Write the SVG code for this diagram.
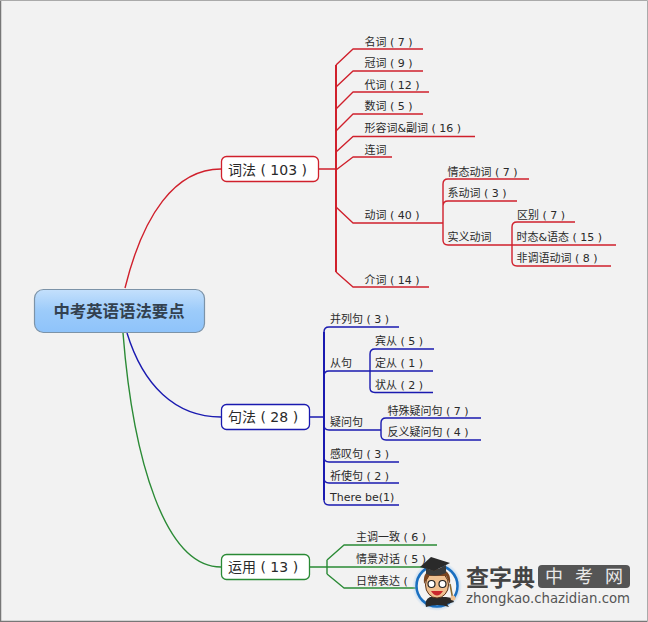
<svg xmlns="http://www.w3.org/2000/svg" width="648" height="622" viewBox="0 0 648 622">
<style>
text{font-family:"DejaVu Sans","Noto Sans CJK SC",sans-serif;fill:#2a2a2a}
.l{font-size:11px}
.m{font-size:14px}
.c{fill:none;stroke-width:1.4;stroke-linejoin:round}
.r{stroke:#d0202c}.b{stroke:#1a1ab0}.g{stroke:#2a8a35}
.n{fill:#fff;stroke-width:1.3}
</style>
<defs>
<linearGradient id="rootFill" x1="0" y1="0" x2="0" y2="1"><stop offset="0" stop-color="#c4e0fc"/><stop offset="0.5" stop-color="#9ccbfa"/><stop offset="1" stop-color="#8ec3fa"/></linearGradient>
<radialGradient id="glow"><stop offset="0.8" stop-color="#9cc8f0" stop-opacity=".7"/><stop offset="1" stop-color="#9cc8f0" stop-opacity="0"/></radialGradient>
</defs>
<rect width="648" height="622" fill="#f2f2f2"/>
<path d="M0.500 0.500V621.500H647.500" fill="none" stroke="#777" stroke-width="1.500"/>
<path d="M0 0.500H647.500V621" fill="none" stroke="#aaa"/>
<g id="connectors">
<path class="c r" d="M125 288C143 215 175 169 221 169M319 169H336"/>
<path class="c b" d="M127 333C143 385 175 417 221 417M309 417H324"/>
<path class="c g" d="M123 333C133 460 165 567 221 567M310 567H437M327 560V574M327 560L344 545H437M327 574L344 588H416"/>
<path class="c r" style="stroke-width:2" d="M336 65V272"/>
<path class="c r" d="M336 65L353 49H423M336 87L353 71H423M336 109L353 92H429M336 131L353 114H423M336 152L353 136.500H475M336 170L353 157H392M336 207L353 223H443M336 272L353 287H429"/>
<path class="c r" d="M443 223V184Q443 179 448 179H529M443 206Q443 201 448 201H517M443 223V240Q443 245 448 245H512"/>
<path class="c r" d="M512 245V227Q512 222 517 222H575M512 245H616M512 245V261Q512 266 517 266H611"/>
<path class="c b" style="stroke-width:2" d="M324 332V500"/>
<path class="c b" d="M324 332Q324 327 329 327H399M324 376Q324 371 329 371H433M324 425Q324 430 329 430H381M324 457Q324 462 329 462H399M324 478Q324 483 329 483H399M324 500Q324 505 329 505H399"/>
<path class="c b" d="M370 371V354Q370 349 375 349H434M370 371V388Q370 392.500 375 392.500H433"/>
<path class="c b" d="M381 430V423Q381 418 386 418H481M381 430V435Q381 440 386 440H481"/>
</g>
<g id="root"><rect x="34.500" y="289.500" width="170" height="43" rx="9" fill="url(#rootFill)" stroke="#7c93a8" stroke-width="1.200"/><text x="119" y="317" font-size="16.400" font-weight="700" text-anchor="middle" style="fill:#33414f">中考英语语法要点</text></g>
<g id="n-cifa"><rect class="n r" x="221.500" y="156.500" width="97" height="25" rx="5"/><text class="m" x="228" y="174.500">词法 ( 103 )</text></g>
<g id="n-jufa"><rect class="n b" x="221.500" y="404.500" width="88" height="25" rx="5"/><text class="m" x="228" y="422">句法 ( 28 )</text></g>
<g id="n-yunyong"><rect class="n g" x="221.500" y="554.500" width="88" height="25" rx="5"/><text class="m" x="228" y="572">运用 ( 13 )</text></g>
<g id="leaves">
<text class="l" x="364.500" y="46">名词 ( 7 )</text>
<text class="l" x="364.500" y="67">冠词 ( 9 )</text>
<text class="l" x="364.500" y="89">代词 ( 12 )</text>
<text class="l" x="364.500" y="110">数词 ( 5 )</text>
<text class="l" x="364.500" y="132">形容词&amp;副词 ( 16 )</text>
<text class="l" x="364.500" y="154">连词</text>
<text class="l" x="364.500" y="219">动词 ( 40 )</text>
<text class="l" x="364.500" y="284">介词 ( 14 )</text>
<text class="l" x="447.500" y="176">情态动词 ( 7 )</text>
<text class="l" x="447.500" y="197">系动词 ( 3 )</text>
<text class="l" x="447.500" y="241">实义动词</text>
<text class="l" x="517" y="219">区别 ( 7 )</text>
<text class="l" x="516.500" y="241">时态&amp;语态 ( 15 )</text>
<text class="l" x="516.500" y="262">非调语动词 ( 8 )</text>
<text class="l" x="330" y="323">并列句 ( 3 )</text>
<text class="l" x="330" y="367">从句</text>
<text class="l" x="375" y="345">宾从 ( 5 )</text>
<text class="l" x="375" y="367">定从 ( 1 )</text>
<text class="l" x="375" y="389">状从 ( 2 )</text>
<text class="l" x="330" y="426">疑问句</text>
<text class="l" x="387.500" y="415">特殊疑问句 ( 7 )</text>
<text class="l" x="387.500" y="436">反义疑问句 ( 4 )</text>
<text class="l" x="330" y="458">感叹句 ( 3 )</text>
<text class="l" x="330" y="480">祈使句 ( 2 )</text>
<text class="l" x="330" y="501">There be(1)</text>
<text class="l" x="356" y="541">主调一致 ( 6 )</text>
<text class="l" x="356" y="563">情景对话 ( 5 )</text>
<text class="l" x="356" y="585">日常表达 (</text>
</g>
<g id="logo">
<circle cx="437" cy="586" r="25" fill="url(#glow)"/>
<circle cx="437" cy="586" r="20.500" fill="#f4f4f4" stroke="#1a6fc0" stroke-width="2.500"/>
<path d="M426 607Q424 600 430 597H446L452 598L454 602L447 604L449 607Q438 603 426 607Z" fill="#2a2a2a"/>
<ellipse cx="437" cy="585" rx="11.500" ry="13" fill="#f0c090" stroke="#5a3318"/>
<path d="M424 584Q422 569 437 569Q452 569 450 584L446 576H429Z" fill="#7a4520"/>
<circle cx="431.500" cy="584" r="3.500" fill="#fff" stroke="#222" stroke-width="1.200"/><circle cx="442.500" cy="584" r="3.500" fill="#fff" stroke="#222" stroke-width="1.200"/>
<path d="M431 591Q437 600 443 591Z" fill="#c8272c"/>
<path d="M420 567L431 557L450 563L434 571Z" fill="#2a2a2a"/>
<path d="M426 568V574Q436 578 446 573V565L434 571Z" fill="#3a3a3a"/>
<path d="M450 584L453 600" stroke="#8a6a30" stroke-width="1.500"/>
<circle cx="453" cy="598" r="2.500" fill="#f0c090"/>
</g>
<g id="watermark">
<text x="466" y="586" font-size="23" font-weight="700" style="fill:#444">查字典</text>
<rect x="538" y="565" width="92" height="23" rx="4" fill="#555"/>
<text x="545" y="583" font-size="18" style="fill:#e8e8e8">中</text><text x="575" y="583" font-size="18" style="fill:#e8e8e8">考</text><text x="605" y="583" font-size="18" style="fill:#e8e8e8">网</text>
<text x="466" y="603" font-size="13.300" style="fill:#555">zhongkao.chazidian.com</text>
</g>
</svg>
